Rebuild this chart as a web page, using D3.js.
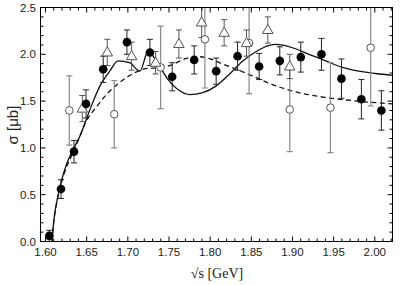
<!DOCTYPE html>
<html><head><meta charset="utf-8">
<script src="https://cdn.jsdelivr.net/npm/d3@7"></script>
<style>body{margin:0;background:#fff}svg{display:block}</style>
</head><body>
<script>
// Filled circles
const fullX = [1.6046,1.6188,1.6346,1.6492,1.6701,1.6989,1.7268,1.7539,1.7806,1.8073,1.8333,1.8595,1.8846,1.9101,1.9352,1.9595,1.9837,2.008];
const fullY = [0.06,0.56,0.96,1.47,1.84,2.13,2.02,1.76,1.94,1.82,1.98,1.87,1.93,1.97,2.00,1.74,1.52,1.40];
const fullE = [0.06,0.10,0.12,0.15,0.14,0.13,0.14,0.15,0.15,0.14,0.15,0.14,0.15,0.16,0.17,0.21,0.21,0.21];
// Open triangles
const triX = [1.6447,1.675,1.7046,1.7337,1.762,1.7896,1.817,1.8442,1.870,1.8967];
const triY = [1.42,2.02,1.98,1.91,2.11,2.34,2.23,2.12,2.26,1.87];
const triE = [0.14,0.14,0.15,0.12,0.15,0.16,0.14,0.14,0.14,0.13];
// Open circles
const openX = [1.6289,1.6835,1.7398,1.7936,1.8473,1.8967,1.9461,1.995];
const openY = [1.40,1.36,1.86,2.16,2.12,1.41,1.43,2.07];
const openE = [0.37,0.36,0.44,0.52,0.54,0.45,0.48,0.62];
// Solid curve
const solidX = [1.608,1.6088,1.6095,1.6112,1.6140,1.6173,1.6210,1.6253,1.6334,1.642,1.654,1.666,1.678,1.688,1.702,1.7146,1.7246,1.736,1.748,1.763,1.775,1.791,1.807,1.823,1.840,1.856,1.872,1.880,1.900,1.920,1.9405,1.9606,1.981,2.001,2.022];
const solidY = [0,0.10,0.17,0.30,0.44,0.58,0.70,0.82,0.98,1.13,1.41,1.66,1.82,1.93,1.91,1.82,2.03,1.91,1.74,1.61,1.57,1.59,1.66,1.785,1.93,2.03,2.095,2.105,2.07,2.0,1.93,1.86,1.82,1.795,1.775];
// Dashed curve
const dashX = [1.608,1.6088,1.6095,1.6112,1.6140,1.6173,1.6210,1.6253,1.6334,1.641,1.648,1.662,1.674,1.686,1.698,1.710,1.724,1.739,1.754,1.769,1.785,1.799,1.814,1.832,1.856,1.869,1.899,1.939,1.979,2.022];
const dashY = [0,0.10,0.17,0.29,0.43,0.56,0.68,0.79,0.95,1.11,1.26,1.44,1.57,1.67,1.75,1.81,1.85,1.855,1.89,1.95,1.975,1.955,1.90,1.84,1.75,1.70,1.61,1.54,1.50,1.47];
const xTicks = [1.60,1.65,1.70,1.75,1.80,1.85,1.90,1.95,2.00];
const yTicks = [0.0,0.5,1.0,1.5,2.0,2.5];

const W = 409, H = 285;
const L = 40.5, R = 392.5, T = 7.5, B = 241.5;
const svg = d3.select("body").append("svg").attr("width", W).attr("height", H);
const x = d3.scaleLinear().domain([1.5939, 2.0215]).range([L, R]);
const y = d3.scaleLinear().domain([0, 2.5]).range([B, T]);

svg.append("defs").append("clipPath").attr("id","clip")
  .append("rect").attr("x",L).attr("y",T).attr("width",R-L).attr("height",B-T);
const g = svg.append("g").attr("clip-path","url(#clip)");

// curves
const line = (xs, ys) => d3.line().x(i => x(xs[i])).y(i => y(ys[i])).curve(d3.curveMonotoneX)(d3.range(xs.length));
g.append("path").attr("d", line(dashX, dashY)).attr("fill","none").attr("stroke","#111").attr("stroke-width",1.3).attr("stroke-dasharray","5,3.5");
g.append("path").attr("d", line(solidX, solidY)).attr("fill","none").attr("stroke","#111").attr("stroke-width",1.3);

function errbars(xs, ys, es, color, w) {
  const gg = g.append("g").attr("stroke", color).attr("stroke-width", w);
  xs.forEach((v, i) => {
    const cx = x(v), y1 = y(ys[i] + es[i]), y2 = y(ys[i] - es[i]);
    gg.append("line").attr("x1",cx).attr("x2",cx).attr("y1",y1).attr("y2",y2);
    gg.append("line").attr("x1",cx-3).attr("x2",cx+3).attr("y1",y1).attr("y2",y1);
    gg.append("line").attr("x1",cx-3).attr("x2",cx+3).attr("y1",y2).attr("y2",y2);
  });
}
errbars(openX, openY, openE, "#8a8a8a", 1.2);
errbars(triX, triY, triE, "#555", 1);
errbars(fullX, fullY, fullE, "#222", 1);

// open circles
g.selectAll(".oc").data(openX).enter().append("circle")
  .attr("cx", d => x(d)).attr("cy", (d,i) => y(openY[i])).attr("r", 3.8)
  .attr("fill","#fff").attr("stroke","#555").attr("stroke-width",1);
// triangles
const tri = d3.symbol().type(d3.symbolTriangle).size(48);
g.selectAll(".tr").data(triX).enter().append("path")
  .attr("d", tri).attr("transform", (d,i) => `translate(${x(d)},${y(triY[i])+0.5})`)
  .attr("fill","#fff").attr("stroke","#555").attr("stroke-width",1);
// filled circles
g.selectAll(".fc").data(fullX).enter().append("circle")
  .attr("cx", d => x(d)).attr("cy", (d,i) => y(fullY[i])).attr("r", 4.3)
  .attr("fill","#000");

// frame and ticks
const ax = svg.append("g").attr("stroke","#000").attr("stroke-width",1);
ax.append("rect").attr("x",L).attr("y",T).attr("width",R-L).attr("height",B-T).attr("fill","none");
const xMinor = d3.range(160, 203).map(v => v/100);
xMinor.forEach(v => {
  const px = x(v); if (px < L+0.5 || px > R-0.5) return;
  const major = Math.abs(v*20 - Math.round(v*20)) < 1e-6;
  const len = major ? 5 : 3;
  ax.append("line").attr("x1",px).attr("x2",px).attr("y1",B).attr("y2",B-len);
  ax.append("line").attr("x1",px).attr("x2",px).attr("y1",T).attr("y2",T+len);
});
const yMinor = d3.range(1, 25).map(v => v/10);
yMinor.forEach(v => {
  const py = y(v);
  const major = Math.abs(v*2 - Math.round(v*2)) < 1e-6;
  const len = major ? 5 : 3;
  ax.append("line").attr("x1",L).attr("x2",L+len).attr("y1",py).attr("y2",py);
  ax.append("line").attr("x1",R).attr("x2",R-len).attr("y1",py).attr("y2",py);
});

// tick labels
const lab = svg.append("g").attr("font-family","'Liberation Sans', Arial, sans-serif").attr("font-size",11.5).attr("fill","#222");
xTicks.forEach(v => lab.append("text").attr("x", x(v)).attr("y", 256).attr("text-anchor","middle").text(v.toFixed(2)));
yTicks.forEach(v => lab.append("text").attr("x", 36).attr("y", y(v)+4).attr("text-anchor","end").text(v.toFixed(1)));

// axis titles
svg.append("text").attr("transform","translate(18,125) rotate(-90)").attr("text-anchor","middle")
  .attr("font-family","'Liberation Sans', Arial, sans-serif").attr("font-size",15).attr("fill","#222").text("σ [μb]");
svg.append("text").attr("x",217).attr("y",278).attr("text-anchor","middle")
  .attr("font-family","'Liberation Serif', 'Times New Roman', serif").attr("font-size",14).attr("fill","#222").text("√s [GeV]");
</script>
</body></html>
